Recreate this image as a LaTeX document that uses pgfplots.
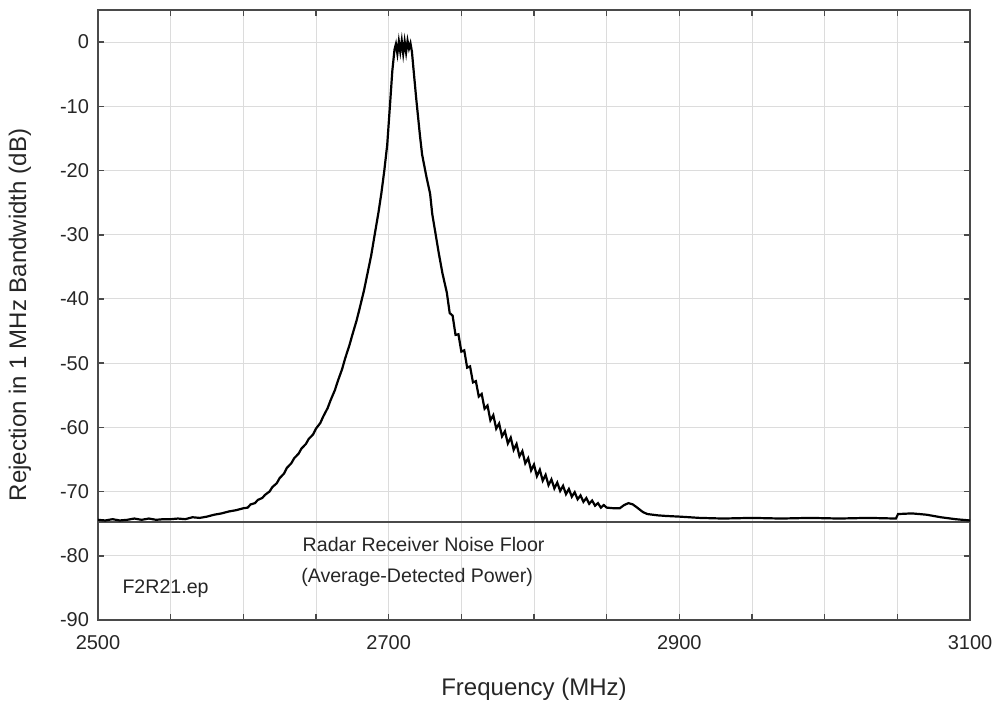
\documentclass[border=0pt]{standalone}
\usepackage{pgfplots}
\pgfplotsset{compat=1.18}
\usepackage{fontspec}
\setmainfont{Liberation Sans}
\definecolor{frame}{HTML}{4A4A4A}
\definecolor{gridc}{HTML}{DCDCDC}
\begin{document}
\begin{tikzpicture}
\begin{axis}[
  scale only axis,
  width=436pt, height=305pt,
  xmin=2500, xmax=3100, ymin=-90, ymax=5,
  xtick={2500,2700,2900,3100},
  minor xtick={2550,2600,2650,2750,2800,2850,2950,3000,3050},
  ytick={-90,-80,-70,-60,-50,-40,-30,-20,-10,0},
  xmajorgrids, xminorgrids, ymajorgrids,
  major grid style={gridc, line width=0.5pt},
  minor grid style={gridc, line width=0.5pt},
  tick align=inside,
  major tick length=3pt, minor tick length=3pt,
  tick style={frame, line width=0.8pt},
  axis line style={frame, line width=1pt},
  /pgf/number format/assume math mode=true,
  /pgf/number format/1000 sep={},
  tick label style={font=\fontsize{10}{12}\selectfont, text=black!85},
  xticklabel style={yshift=-4pt},
  yticklabel style={xshift=-1pt},
  xlabel={Frequency (MHz)},
  ylabel={Rejection in 1 MHz Bandwidth (dB)},
  label style={font=\fontsize{12}{14}\selectfont, text=black!85},
  xlabel style={at={(axis description cs:0.5,-0.113)}, anchor=center},
  ylabel style={at={(axis description cs:-0.0894,0.5)}, anchor=center},
  clip=true,
]
\addplot[frame, line width=1pt] coordinates {(2500,-74.8) (3100,-74.8)};
\addplot[black, line width=1.1pt] coordinates {
(2500,-74.4) (2505,-74.5) (2510,-74.3) (2515,-74.5) (2520,-74.4) (2525,-74.2)
(2530,-74.4) (2535,-74.2) (2540,-74.4) (2545,-74.3) (2550,-74.3) (2555,-74.2)
(2560,-74.3) (2565,-74.0) (2570,-74.1) (2575,-73.9) (2580,-73.6) (2585,-73.4)
(2590,-73.1) (2595,-72.9) (2600,-72.6) (2603,-72.5) (2605,-72.0) (2608,-71.8)
(2610,-71.3) (2613,-71.0) (2615,-70.5) (2618,-70.0) (2620,-69.3) (2623,-68.7)
(2625,-67.9) (2628,-67.2) (2630,-66.3) (2633,-65.6) (2635,-64.8) (2638,-64.1)
(2640,-63.3) (2643,-62.6) (2645,-61.8) (2648,-61.1) (2650,-60.2) (2653,-59.3)
(2655,-58.3) (2658,-57.0) (2660,-55.8) (2663,-54.2) (2665,-52.8) (2668,-50.9)
(2670,-49.3) (2673,-47.2) (2675,-45.6) (2678,-43.3) (2680,-41.5) (2683,-38.7)
(2685,-36.5) (2688,-33.2) (2690,-30.5) (2693,-26.5) (2695,-23.5) (2697,-20.0)
(2699,-16.0) (2701,-9.5)
(2702.5,-4.5) (2704,-1.2) (2705,-0.3) (2706,-1.8) (2707,0.1) (2708,-1.5)
(2709,0.2) (2710,-1.8) (2711,0.1) (2712,-1.6) (2713,0.2) (2714,-1.0)
(2715,-0.2) (2716,-1.5) (2717,-4.0) (2719,-8.9) (2721.5,-14.5) (2723,-17.5)
(2726,-21.0) (2728.5,-23.6) (2730,-26.8) (2732,-29.5) (2734.5,-32.9) (2737,-36.0)
(2740,-39.0) (2742,-42.2) (2744,-42.6) (2746,-45.6) (2748,-45.5) (2750,-48.2)
(2752,-48.0) (2754,-50.7) (2756,-50.5) (2758,-53.0) (2760,-52.8) (2762,-55.2)
(2764,-54.8) (2766,-57.1) (2768,-56.6) (2770,-58.9) (2772,-58.1) (2774,-60.2)
(2776,-59.4) (2778,-61.4) (2780,-60.6) (2782,-62.5) (2784,-61.6) (2786,-63.5)
(2788,-62.6) (2790,-64.5) (2792,-63.7) (2794,-65.6) (2796,-64.8) (2798,-66.7)
(2800,-65.8) (2802,-67.6) (2804,-66.6) (2806,-68.3) (2808,-67.4) (2810,-69.0)
(2812,-68.1) (2814,-69.5) (2816,-68.6) (2818,-69.9) (2820,-69.1) (2822,-70.4)
(2824,-69.6) (2826,-70.8) (2828,-70.1) (2830,-71.2) (2832,-70.6) (2834,-71.6)
(2836,-71.0) (2838,-71.9) (2840,-71.4) (2842,-72.2) (2844,-71.8) (2846,-72.5)
(2848,-72.1) (2850,-72.5) (2855,-72.6)
(2859,-72.6) (2862,-72.1) (2865,-71.8) (2868,-72.0) (2871,-72.5) (2875,-73.2)
(2878,-73.5) (2885,-73.7) (2891,-73.8) (2900,-73.9) (2914,-74.1) (2930,-74.2)
(2950,-74.1) (2970,-74.2) (2990,-74.1) (3010,-74.2) (3030,-74.1) (3049,-74.2)
(3050.5,-73.5) (3060,-73.4) (3070,-73.6) (3080,-74.0) (3090,-74.3) (3100,-74.5)
};
\node[anchor=west, font=\fontsize{9.8}{12}\selectfont, text=black!85] at (axis cs:2636,-78.2) {Radar Receiver Noise Floor};
\node[anchor=west, font=\fontsize{9.8}{12}\selectfont, text=black!85] at (axis cs:2635,-83.4) {(Average-Detected Power)};
\node[anchor=west, font=\fontsize{9.8}{12}\selectfont, text=black!85] at (axis cs:2512,-85.2) {F2R21.ep};
\end{axis}
\pgfresetboundingbox
\path ([shift={(-49pt,-43.5pt)}]current axis.south west) rectangle ([shift={(12.5pt,5pt)}]current axis.north east);
\end{tikzpicture}
\end{document}
